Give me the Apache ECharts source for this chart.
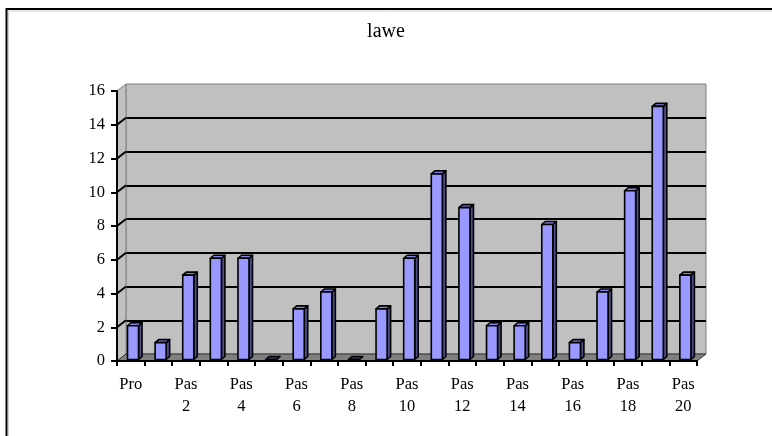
<!DOCTYPE html>
<html>
<head>
<meta charset="utf-8">
<script src="https://cdn.jsdelivr.net/npm/echarts@6/dist/echarts.min.js"></script>
<style>html,body{margin:0;padding:0;background:#fff;}#c{width:772px;height:436px;}</style>
</head>
<body>
<div id="c"></div>
<script>
const title = 'lawe';
const categories = ['Pro','Pas 1','Pas 2','Pas 3','Pas 4','Pas 5','Pas 6','Pas 7','Pas 8','Pas 9','Pas 10',
  'Pas 11','Pas 12','Pas 13','Pas 14','Pas 15','Pas 16','Pas 17','Pas 18','Pas 19','Pas 20'];
const values = [2,1,5,6,6,0,3,4,0,3,6,11,9,2,2,8,1,4,10,15,5];
const yMin = 0, yMax = 16, yStep = 2;

const FONT = '"Liberation Serif","Times New Roman",serif';
const WALL_DX = 9, WALL_DY = -7;
const chart = echarts.init(document.getElementById('c'), null, {renderer: 'canvas'});

function wallRender(params, api) {
  const cs = params.coordSys;
  const base = api.coord([0, yMin])[1];
  const topY = api.coord([0, yMax])[1];
  const L = cs.x, R = cs.x + cs.width;
  const children = [];
  children.push({type: 'polygon', shape: {points: [[L, base], [L, topY], [L + WALL_DX, topY + WALL_DY], [L + WALL_DX, base + WALL_DY]]},
    style: {fill: '#c0c0c0', stroke: '#808080', lineWidth: 1}});
  for (let v = yMin + yStep; v < yMax; v += yStep) {
    const y = api.coord([0, v])[1];
    children.push({type: 'line', shape: {x1: L, y1: y, x2: L + WALL_DX, y2: y + WALL_DY}, style: {stroke: '#000', lineWidth: 2}});
  }
  children.push({type: 'polygon', shape: {points: [[L, base], [R, base], [R + WALL_DX, base + WALL_DY], [L + WALL_DX, base + WALL_DY]]},
    style: {fill: '#808080', stroke: '#333', lineWidth: 1}});
  return {type: 'group', children: children};
}

function barRender(params, api) {
  const idx = api.value(0), v = api.value(1);
  const top = api.coord([idx, v]);
  const base = api.coord([idx, 0]);
  const band = api.size([1, 0])[0];
  const w = band * 0.4;
  const cx = base[0] + 2.2;
  const x0 = cx - w / 2, x1 = cx + w / 2;
  const yb = base[1] - 1.5, yt = top[1] - 1.5;
  const dx = 3.5, dy = -3;
  const st = {stroke: '#000', lineWidth: 1.6, lineJoin: 'round'};
  const children = [];
  if (v > 0) {
    children.push({type: 'polygon', shape: {points: [[x1, yb], [x1, yt], [x1 + dx, yt + dy], [x1 + dx, yb + dy]]},
      style: Object.assign({fill: '#4d4d88'}, st)});
  }
  children.push({type: 'polygon', shape: {points: [[x0, yt], [x1, yt], [x1 + dx, yt + dy], [x0 + dx, yt + dy]]},
    style: Object.assign({fill: v > 0 ? '#8585e6' : '#333355'}, st)});
  if (v > 0) {
    children.push({type: 'rect', shape: {x: x0, y: yt, width: x1 - x0, height: yb - yt},
      style: Object.assign({fill: '#9999ff'}, st)});
  }
  return {type: 'group', children: children};
}

chart.setOption({
  animation: false,
  backgroundColor: '#fff',
  title: {text: title, left: 'center', top: 22, padding: 0,
    textStyle: {fontFamily: FONT, fontSize: 20, fontWeight: 'normal', color: '#000'}},
  graphic: [
    {type: 'rect', shape: {x: 6.5, y: 9, width: 900, height: 600}, style: {fill: null, stroke: '#000', lineWidth: 2}, z: 100},
    {type: 'rect', shape: {x: 8.5, y: 11, width: 900, height: 600}, style: {fill: null, stroke: '#d0d0d0', lineWidth: 1}, z: 100}
  ],
  grid: [
    {left: 117, right: 75, top: 91, bottom: 75},
    {left: 117 + WALL_DX, right: 75 - WALL_DX, top: 91 + WALL_DY, bottom: 75 - WALL_DY,
      show: true, backgroundColor: '#c0c0c0', borderColor: '#808080', borderWidth: 1}
  ],
  xAxis: [
    {gridIndex: 0, type: 'category', data: categories, boundaryGap: true, z: 5,
      axisLine: {show: true, lineStyle: {color: '#000', width: 2}},
      axisTick: {show: true, interval: 0, alignWithLabel: false, length: 5, lineStyle: {color: '#000', width: 2}},
      axisLabel: {interval: 1, margin: 13, color: '#000', fontFamily: FONT, fontSize: 16.5, lineHeight: 22,
        formatter: function (v) { return v.replace(' ', '\n'); }},
      splitLine: {show: false}},
    {gridIndex: 1, type: 'value', show: false, min: 0, max: 1}
  ],
  yAxis: [
    {gridIndex: 0, type: 'value', min: yMin, max: yMax, interval: yStep, z: 5,
      axisLine: {show: true, lineStyle: {color: '#000', width: 2}},
      axisTick: {show: true, length: 6, lineStyle: {color: '#000', width: 2}},
      axisLabel: {margin: 12, color: '#000', fontFamily: FONT, fontSize: 16.5},
      splitLine: {show: false}},
    {gridIndex: 1, type: 'value', min: yMin, max: yMax, interval: yStep,
      axisLine: {show: false}, axisTick: {show: false}, axisLabel: {show: false},
      splitLine: {show: true, showMinLine: false, showMaxLine: false, lineStyle: {color: '#000', width: 2}}}
  ],
  series: [
    {type: 'custom', xAxisIndex: 0, yAxisIndex: 0, renderItem: wallRender, data: [[0, 0]], silent: true, z: 1},
    {type: 'custom', xAxisIndex: 0, yAxisIndex: 0, renderItem: barRender,
      data: values.map(function (v, i) { return [i, v]; }), encode: {x: 0, y: 1}, z: 2}
  ]
});
</script>
</body>
</html>
